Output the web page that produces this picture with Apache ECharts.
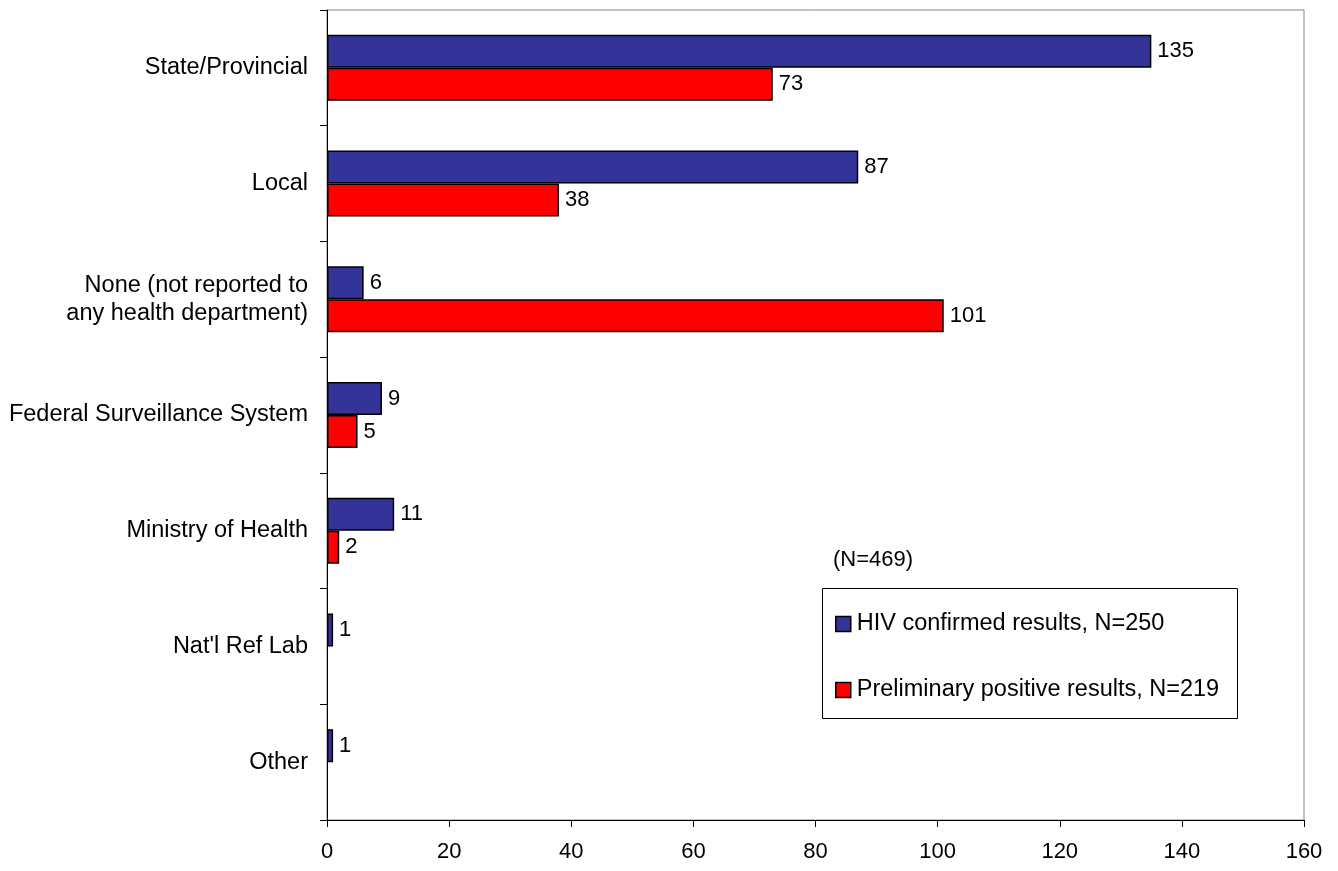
<!DOCTYPE html>
<html>
<head>
<meta charset="utf-8">
<script src="https://cdn.jsdelivr.net/npm/echarts@6/dist/echarts.min.js"></script>
<style>html,body{margin:0;padding:0;background:#fff}#c{width:1338px;height:871px}</style>
</head>
<body>
<div id="c"></div>
<script>
const categories = ["State/Provincial", "Local", "None (not reported to\nany health department)", "Federal Surveillance System", "Ministry of Health", "Nat'l Ref Lab", "Other"];
const confirmedValues = [135, 87, 6, 9, 11, 1, 1];
const preliminaryValues = [73, 38, 101, 5, 2, null, null];
const seriesNames = ["HIV confirmed results, N=250", "Preliminary positive results, N=219"];
const xTicks = { min: 0, max: 160, interval: 20 };
const noteText = "(N=469)";

const font = 'Liberation Sans, Arial, sans-serif';
const chart = echarts.init(document.getElementById('c'));
const labelCfg = { show: true, position: 'right', distance: 6, color: '#000', fontSize: 22, fontFamily: font };
chart.setOption({
  animation: false,
  backgroundColor: '#fff',
  grid: { left: 327, top: 10, width: 977, height: 810, containLabel: false, show: true, borderColor: '#888', borderWidth: 1 },
  xAxis: {
    type: 'value', min: xTicks.min, max: xTicks.max, interval: xTicks.interval,
    axisLine: { show: true, onZero: false, lineStyle: { color: '#000', width: 1 } },
    axisTick: { show: true, length: 7, lineStyle: { color: '#000' } },
    splitLine: { show: false },
    axisLabel: { color: '#000', fontSize: 22, fontFamily: font, margin: 21 }
  },
  yAxis: {
    type: 'category', data: categories, inverse: true,
    axisLine: { show: true, lineStyle: { color: '#000', width: 1 } },
    axisTick: { show: true, length: 7, lineStyle: { color: '#000' } },
    axisLabel: { color: '#000', fontSize: 23.5, fontFamily: font, margin: 19, align: 'right', lineHeight: 28 }
  },
  legend: {
    orient: 'vertical', left: 835, top: 610, itemGap: 38, padding: 0, itemSpacing: 6,
    icon: 'rect', itemWidth: 15, itemHeight: 15, itemStyle: { borderColor: '#000', borderWidth: 1.5 },
    textStyle: { color: '#000', fontSize: 23.5, fontFamily: font, padding: [0, 0, 0, 1], lineHeight: 28 },
    data: seriesNames
  },
  graphic: [
    { type: 'rect', shape: { x: 822.5, y: 588.5, width: 415, height: 130 }, style: { fill: 'none', stroke: '#000', lineWidth: 1 }, z: 1 },
    { type: 'text', left: 833, top: 549, style: { text: noteText, fill: '#000', fontSize: 22, fontFamily: font } }
  ],
  series: [
    { name: seriesNames[0], type: 'bar', data: confirmedValues, barWidth: 33, barGap: '0%', barCategoryGap: '42%',
      itemStyle: { color: '#333399', borderColor: '#000', borderWidth: 1.5 }, label: labelCfg },
    { name: seriesNames[1], type: 'bar', data: preliminaryValues, barWidth: 33, barGap: '0%', barCategoryGap: '42%',
      itemStyle: { color: '#ff0000', borderColor: '#000', borderWidth: 1.5 }, label: labelCfg }
  ]
});
</script>
</body>
</html>
